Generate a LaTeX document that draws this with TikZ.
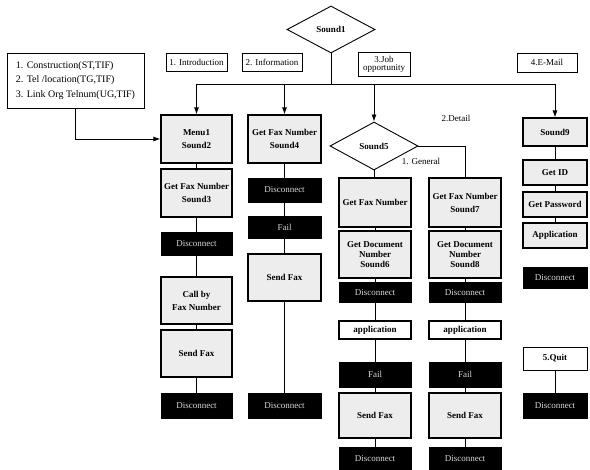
\documentclass[tikz,border=0pt]{standalone}
\usepackage{fontspec}
\setmainfont{Liberation Serif}
\usetikzlibrary{arrows.meta,positioning,shapes.geometric}
\definecolor{ink}{HTML}{000000}
\definecolor{dots}{HTML}{EDEDED}

\begin{document}
\begin{tikzpicture}[x=1pt,y=-1pt,
  every node/.style={font=\fontsize{9}{10}\selectfont\bfseries,align=center,inner sep=1pt},
  graybox/.style={rectangle,draw=ink,line width=1.1pt,fill=dots,minimum width=71pt},
  darkbox/.style={rectangle,draw=ink,fill=ink,text=white!85!black,font=\fontsize{9}{10}\selectfont,minimum width=71pt},
  labelbox/.style={rectangle,draw=ink,line width=0.9pt,fill=white,font=\fontsize{9}{10}\selectfont},
  decision/.style={diamond,draw=ink,line width=0.9pt,fill=white,aspect=1.85,inner sep=0pt},
  tag/.style={font=\fontsize{9}{10}\selectfont},
  link/.style={draw=ink,line width=0.9pt},
  edge/.style={-{Latex[length=7pt,width=5pt]},draw=ink,line width=0.9pt}
]
\useasboundingbox (0,0) rectangle (590,470);

% top of the menu
\node[decision,minimum width=88pt,minimum height=47pt] (snd1) at (331,29.5) {Sound1};
\node[labelbox,align=left,font=\fontsize{10}{14.5}\selectfont,minimum width=137pt,minimum height=55pt,inner xsep=4pt] (list) at (75.5,80.5)
  {1. Construction(ST,TIF)\\2. Tel /location(TG,TIF)\\3. Link Org Telnum(UG,TIF)};
\node[labelbox,minimum width=61pt,minimum height=18pt] (intro) at (196.5,62) {1. Introduction};
\node[labelbox,minimum width=60pt,minimum height=18pt] (info) at (272,62) {2. Information};
\node[labelbox,minimum width=52pt,minimum height=24pt,inner sep=0pt] (job) at (384,64) {3.Job\\[-2pt]opportunity};
\node[labelbox,minimum width=60pt,minimum height=19pt] (mail) at (547,62.5) {4.E-Mail};
\coordinate (bus) at (331,84);

% 1. introduction
\node[graybox,minimum height=48pt] (menu) at (196.5,139) {Menu1\\[3pt]Sound2};
\node[graybox,minimum height=48pt] (faxA) at (196.5,193) {Get Fax Number\\[3pt]Sound3};
\node[darkbox,minimum height=23pt] (discA) at (196.5,243.5) {Disconnect};
\node[graybox,minimum height=47pt] (call) at (196.5,300.5) {Call by\\[3pt]Fax Number};
\node[graybox,minimum height=47pt] (sendA) at (196.5,353.5) {Send Fax};
\node[darkbox,minimum height=25pt] (discB) at (196.5,405.5) {Disconnect};

% 2. information
\node[graybox,minimum width=73pt,minimum height=48pt] (faxB) at (284.5,139) {Get Fax Number\\[3pt]Sound4};
\node[darkbox,minimum width=73pt,minimum height=24pt] (discC) at (284.5,190) {Disconnect};
\node[darkbox,minimum width=73pt,minimum height=22pt] (failA) at (284.5,227) {Fail};
\node[graybox,minimum width=73pt,minimum height=47pt] (sendB) at (284.5,277.5) {Send Fax};
\node[darkbox,minimum width=73pt,minimum height=25pt] (discD) at (284.5,405.5) {Disconnect};

% 3. job opportunity
\node[decision,minimum width=88pt,minimum height=48pt] (snd5) at (374,146) {Sound5};
\node[tag] (detail) at (456,118) {2.Detail};
\node[tag] (general) at (421,161) {1. General};

\node[graybox,minimum width=72pt,minimum height=49pt] (faxC) at (375,202.5) {Get Fax Number};
\node[graybox,minimum width=72pt,minimum height=47pt] (docA) at (375,254.5) {Get Document\\Number\\Sound6};
\node[darkbox,minimum width=72pt,minimum height=20pt] (discE) at (375,292.5) {Disconnect};
\node[graybox,fill=white,minimum width=72pt,minimum height=18pt] (appA) at (375,330) {application};
\node[darkbox,minimum width=72pt,minimum height=25pt] (failB) at (375,374.5) {Fail};
\node[graybox,minimum width=72pt,minimum height=45pt] (sendC) at (375,415.5) {Send Fax};
\node[darkbox,minimum width=72pt,minimum height=23pt] (discF) at (375,458.5) {Disconnect};

\node[graybox,minimum width=72pt,minimum height=49pt] (faxD) at (465,202.5) {Get Fax Number\\[3pt]Sound7};
\node[graybox,minimum width=72pt,minimum height=47pt] (docB) at (465,254.5) {Get Document\\Number\\Sound8};
\node[darkbox,minimum width=72pt,minimum height=20pt] (discI) at (465,292.5) {Disconnect};
\node[graybox,fill=white,minimum width=72pt,minimum height=18pt] (appB) at (465,330) {application};
\node[darkbox,minimum width=72pt,minimum height=25pt] (failC) at (465,374.5) {Fail};
\node[graybox,minimum width=72pt,minimum height=45pt] (sendD) at (465,415.5) {Send Fax};
\node[darkbox,minimum width=72pt,minimum height=23pt] (discJ) at (465,458.5) {Disconnect};

% 4. e-mail
\node[graybox,minimum width=64pt,minimum height=28pt] (snd9) at (555,132) {Sound9};
\node[graybox,minimum width=64pt,minimum height=25pt] (getid) at (555,172.5) {Get ID};
\node[graybox,minimum width=64pt,minimum height=25pt] (getpw) at (555,204.5) {Get Password};
\node[graybox,minimum width=64pt,minimum height=25pt] (appC) at (555,235.5) {Application};
\node[darkbox,minimum width=64pt,minimum height=21pt] (discG) at (555,277.5) {Disconnect};

% 5. quit
\node[labelbox,font=\fontsize{9}{10}\selectfont\bfseries,minimum width=64pt,minimum height=23pt] (quit) at (555,358.5) {5.Quit};
\node[darkbox,minimum width=64pt,minimum height=25pt] (discH) at (555,405.5) {Disconnect};

% bus and arrows
\draw[link] (snd1.south) -- (bus);
\draw[link] (menu.north |- bus) -- (snd9.north |- bus);
\foreach \n in {menu,faxB,snd5,snd9}
  \draw[edge] (\n.north |- bus) -- (\n.north);
\draw[edge] (list.south) |- (menu.west);

% chains
\foreach \a/\b in {menu/faxA,faxA/discA,discA/call,call/sendA,sendA/discB,
                   faxB/discC,discC/failA,failA/sendB,sendB/discD,
                   snd5/faxC,faxC/docA,docA/discE,discE/appA,appA/failB,failB/sendC,sendC/discF,
                   faxD/docB,docB/discI,discI/appB,appB/failC,failC/sendD,sendD/discJ,
                   snd9/getid,getid/getpw,getpw/appC,quit/discH}
  \draw[link] (\a) -- (\b);
\draw[link] (snd5.east) -| (faxD.north);
\end{tikzpicture}
\end{document}
